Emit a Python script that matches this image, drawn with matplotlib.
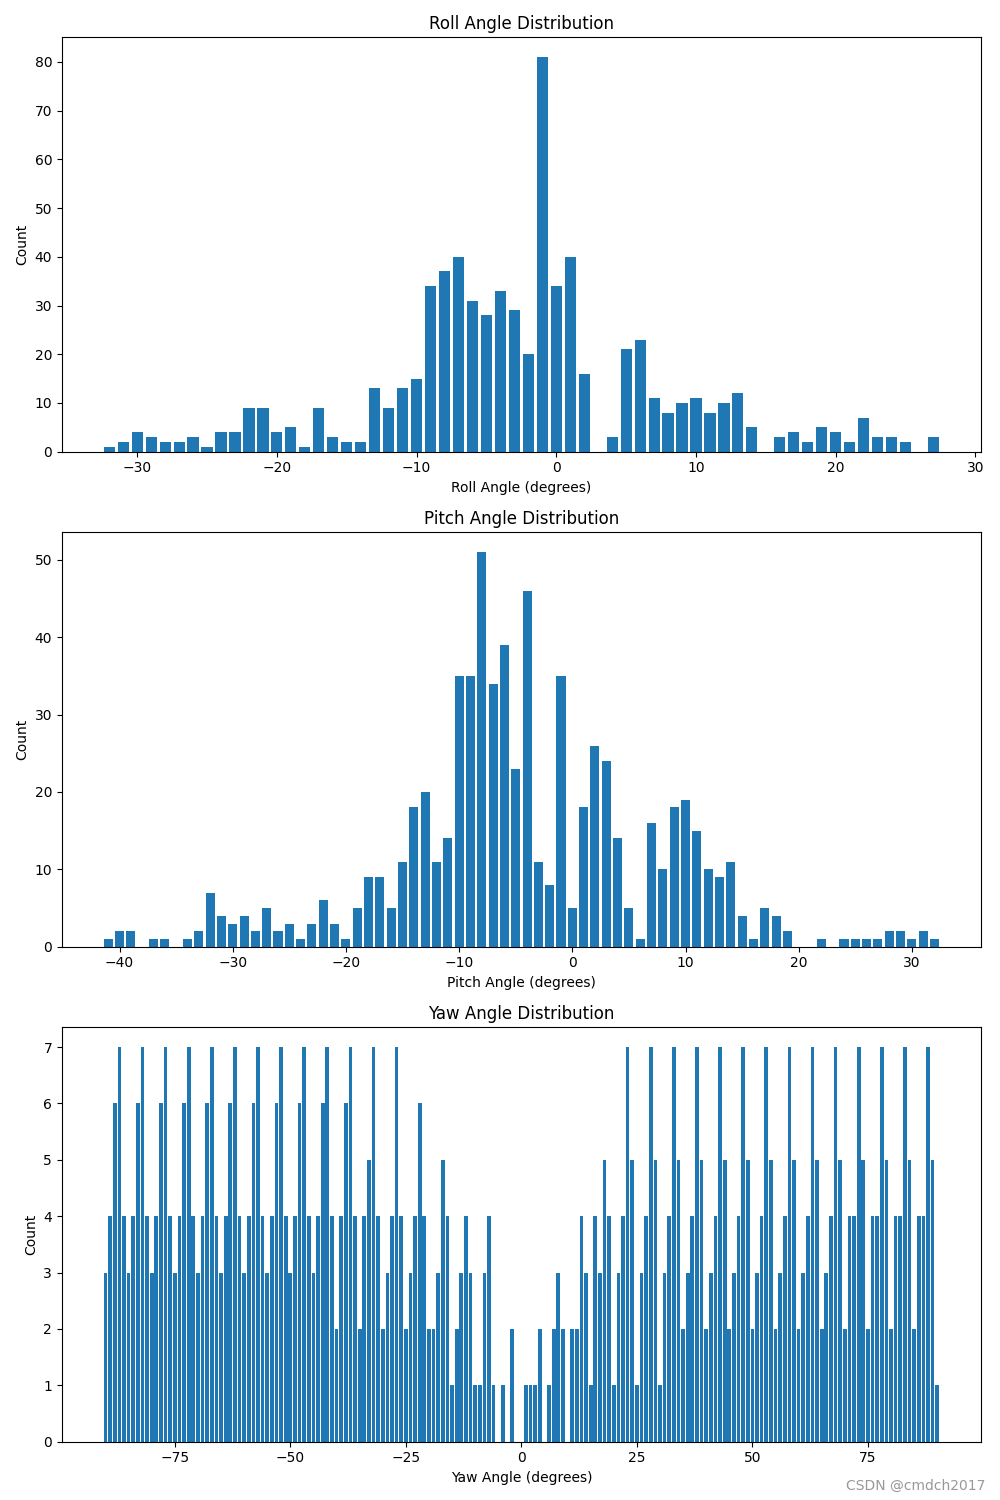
import matplotlib
matplotlib.use("Agg")
import matplotlib.pyplot as plt
import numpy as np

# Roll angle histogram (integer degrees)
roll_angles = list(range(-32, 28))
roll_counts = [1, 2, 4, 3, 2, 2, 3, 1, 4, 4, 9, 9, 4, 5, 1, 9, 3, 2, 2, 13,
               9, 13, 15, 34, 37, 40, 31, 28, 33, 29, 20, 81, 34, 40, 16, 0, 3, 21, 23, 11,
               8, 10, 11, 8, 10, 12, 5, 0, 3, 4, 2, 5, 4, 2, 7, 3, 3, 2, 0, 3]

# Pitch angle histogram
pitch_angles = list(range(-41, 33))
pitch_counts = [1, 2, 2, 0, 1, 1, 0, 1, 2, 7, 4, 3, 4, 2, 5, 2, 3, 1, 3, 6,
                3, 1, 5, 9, 9, 5, 11, 18, 20, 11, 14, 35, 35, 51, 34, 39, 23, 46, 11, 8,
                35, 5, 18, 26, 24, 14, 5, 1, 16, 10, 18, 19, 15, 10, 9, 11, 4, 1, 5, 4,
                2, 0, 0, 1, 0, 1, 1, 1, 1, 2, 2, 1, 2, 1]

# Yaw angle histogram
yaw_angles = list(range(-90, 91))
yaw_counts = [
    # -90 .. -61
    3, 4, 6, 7, 4, 3, 4, 6, 7, 4, 3, 4, 6, 7, 4, 3, 4, 6, 7, 4, 3, 4, 6, 7, 4, 3, 4, 6, 7, 4,
    # -60 .. -31
    3, 4, 6, 7, 4, 3, 4, 6, 7, 4, 3, 4, 6, 7, 4, 3, 4, 6, 7, 4, 2, 4, 6, 7, 4, 2, 4, 5, 7, 4,
    # -30 .. -1
    2, 3, 4, 7, 4, 2, 3, 4, 6, 4, 2, 2, 3, 5, 4, 1, 2, 3, 4, 3, 1, 1, 3, 4, 1, 0, 1, 0, 2, 0,
    # 0 .. 29
    0, 1, 1, 1, 2, 0, 1, 2, 3, 2, 0, 2, 2, 4, 3, 1, 4, 3, 5, 4, 1, 3, 4, 7, 5, 1, 3, 4, 7, 5,
    # 30 .. 59
    1, 3, 4, 7, 5, 2, 3, 4, 7, 5, 2, 3, 4, 7, 5, 2, 3, 4, 7, 5, 2, 3, 4, 7, 5, 2, 3, 4, 7, 5,
    # 60 .. 90
    2, 3, 4, 7, 5, 2, 3, 4, 7, 5, 2, 4, 4, 7, 5, 2, 4, 4, 7, 5, 2, 4, 4, 7, 5, 2, 4, 4, 7, 5, 1,
]

fig, axes = plt.subplots(3, 1, figsize=(10, 15), dpi=100)

axes[0].bar(roll_angles, roll_counts)
axes[0].set_title("Roll Angle Distribution")
axes[0].set_xlabel("Roll Angle (degrees)")
axes[0].set_ylabel("Count")

axes[1].bar(pitch_angles, pitch_counts)
axes[1].set_title("Pitch Angle Distribution")
axes[1].set_xlabel("Pitch Angle (degrees)")
axes[1].set_ylabel("Count")

axes[2].bar(yaw_angles, yaw_counts)
axes[2].set_title("Yaw Angle Distribution")
axes[2].set_xlabel("Yaw Angle (degrees)")
axes[2].set_ylabel("Count")

fig.tight_layout()
fig.text(0.985, 0.005, "CSDN @cmdch2017", ha="right", va="bottom",
         color="#999999", fontsize=10)
fig.savefig("out.png")
